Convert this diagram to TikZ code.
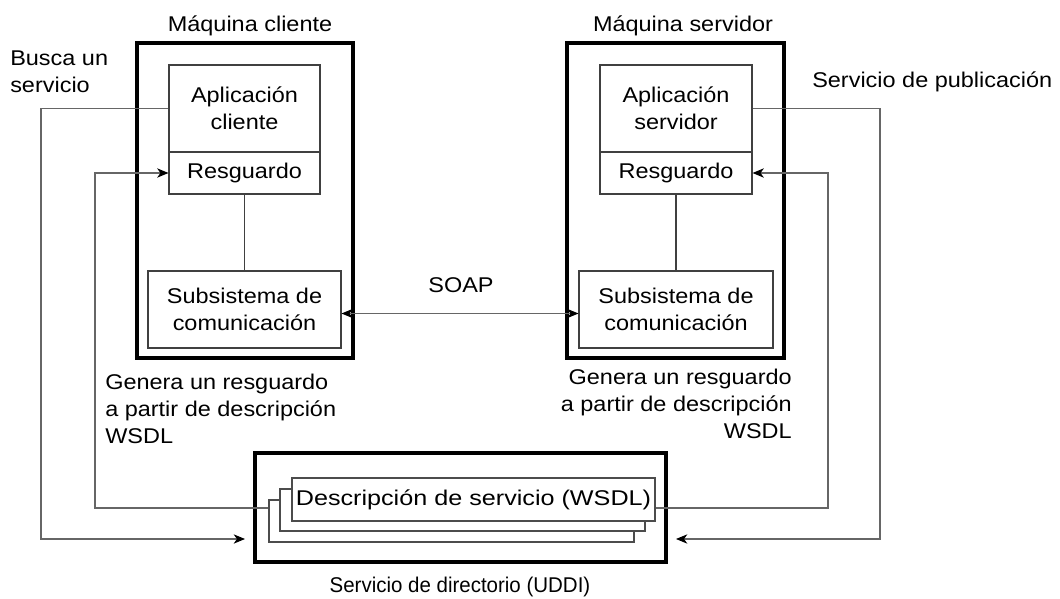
\documentclass[tikz,border=0pt]{standalone}
\usepackage{fontspec}
\setmainfont{Liberation Sans}[FakeStretch=1.1]
\newfontfamily\widefnt{Liberation Sans}[FakeStretch=1.18]
\newfontfamily\condfnt{Liberation Sans}[FakeStretch=0.96]
\usetikzlibrary{arrows.meta}
\begin{document}
\begin{tikzpicture}[x=0.75pt,y=-0.75pt,
  font=\fontsize{16}{20.25}\selectfont,
  wh/.style 2 args={minimum width=#1*0.75pt, minimum height=#2*0.75pt},
  thickbox/.style={draw=black, line width=3pt, inner sep=0pt},
  innerbox/.style={draw=black!75, line width=0.8pt, fill=white, align=center, inner sep=0pt, text=black},
  card/.style={draw=black!70, line width=0.8pt, fill=white, inner sep=0pt, text=black},
  conn/.style={draw=black!60, line width=0.8pt},
  arr/.style={-{Stealth[length=8.5pt,width=7pt,inset=2.5pt,color=black]}},
  arrboth/.style={{Stealth[length=8.5pt,width=7pt,inset=2.5pt,color=black]}-{Stealth[length=8.5pt,width=7pt,inset=2.5pt,color=black]}},
  lbl/.style={inner sep=0pt, align=left, text=black}]
\useasboundingbox (0,0) rectangle (1060,599);

% client machine
\node[thickbox, wh={216}{315}] (cbox) at (245,200.5) {};
\node[innerbox, wh={151}{87}] (capp) at (244.5,108.5) {Aplicación\\cliente};
\node[innerbox, wh={151}{42}] (cres) at (244.5,173) {Resguardo};
\node[innerbox, wh={193}{77}] (csub) at (244.5,309.5) {Subsistema de\\comunicación};
\draw[conn, draw=black!75] (cres.south) -- (csub.north);

% server machine
\node[thickbox, wh={217}{315}] (sbox) at (675.5,200.5) {};
\node[innerbox, wh={152}{87}] (sapp) at (676,108.5) {Aplicación\\servidor};
\node[innerbox, wh={152}{42}] (sres) at (676,173) {Resguardo};
\node[innerbox, wh={194}{77}] (ssub) at (676,309.5) {Subsistema de\\comunicación};
\draw[conn, draw=black!75] (sres.south) -- (ssub.north);

% directory service
\node[thickbox, wh={411}{109}] (uddi) at (460.5,507.5) {};
\node[card, wh={365}{42}] (back) at (451.5,521) {};
\node[card, wh={365}{42}] (mid) at (462.5,510) {};
\node[card, wh={363}{43}, font=\widefnt\fontsize{16}{20.25}\selectfont] (front) at (473.5,499.5) {Descripción de servicio (WSDL)};

% labels
\node[lbl, anchor=base] (lmc) at (250,32) {Máquina cliente};
\node[lbl, anchor=base] (lms) at (683,32) {Máquina servidor};
\node[lbl, anchor=north west] (lbusca) at (10,51) {Busca un\\servicio};
\node[lbl, anchor=base west] (lpub) at (812,88) {Servicio de publicación};
\node[lbl, anchor=base] (lsoap) at (461,292) {SOAP};
\node[lbl, anchor=north west] (lgen1) at (105,374) {Genera un resguardo\\a partir de descripción\\WSDL};
\node[lbl, anchor=north east, align=right] (lgen2) at (792,369) {Genera un resguardo\\a partir de descripción\\WSDL};
\node[lbl, anchor=base, font=\condfnt\fontsize{16}{20.25}\selectfont] (luddi) at (460,592) {Servicio de directorio (UDDI)};

% connectors
\coordinate (bl) at (41,539);
\coordinate (be) at (245,539);
\draw[conn, arr] (capp.west) -| (bl) -- (be);
\coordinate (wl) at (95,508);
\draw[conn, arr] (back.west |- wl) -- (wl) |- (cres.west);
\coordinate (wr) at (828,508);
\draw[conn, arr] (front.east |- wr) -- (wr) |- (sres.east);
\coordinate (pr) at (880,539);
\coordinate (pe) at (676,539);
\draw[conn, arr] (sapp.east) -| (pr) -- (pe);
\draw[conn, arrboth] ([yshift=-3pt]csub.east) -- ([yshift=-3pt]ssub.west);
\end{tikzpicture}
\end{document}
